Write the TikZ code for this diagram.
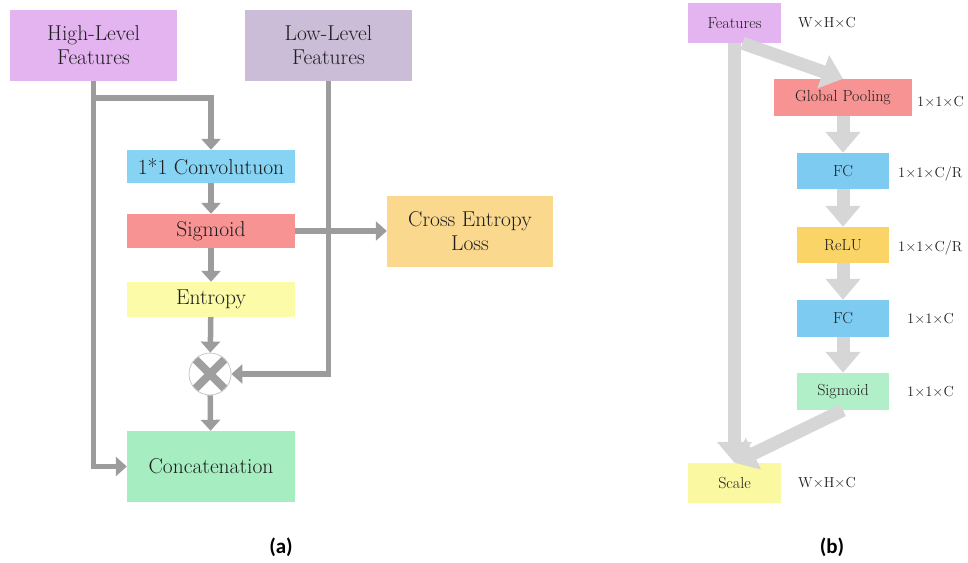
\documentclass[tikz,border=0pt]{standalone}
\usepackage{fontspec}
\newfontfamily\capfont{Carlito}
\usetikzlibrary{arrows.meta,calc}
\definecolor{hlcol}{HTML}{E4B4F0}
\definecolor{llcol}{HTML}{CBBCD7}
\definecolor{convcol}{HTML}{86D3F3}
\definecolor{sigcol}{HTML}{F79393}
\definecolor{entcol}{HTML}{FBFBA8}
\definecolor{catcol}{HTML}{A6EDC2}
\definecolor{celcol}{HTML}{FAD98E}
\definecolor{fccol}{HTML}{7DCBF1}
\definecolor{relucol}{HTML}{FAD466}
\definecolor{sigbcol}{HTML}{B0EFC8}
\definecolor{scalecol}{HTML}{FBF8A2}
\definecolor{linegray}{HTML}{9C9C9C}
\definecolor{fatgray}{HTML}{D6D6D6}
\definecolor{txt}{HTML}{1E1E1E}

\begin{document}
\begin{tikzpicture}[x=1pt,y=-1pt,
    box/.style={rectangle,inner sep=0pt,text=txt,align=center,font=\fontsize{21.5}{24}\selectfont},
    sbox/.style={rectangle,inner sep=0pt,text=txt,align=center,font=\fontsize{16}{18}\selectfont},
    thinarrow/.style={draw=linegray,line width=5.5pt,-{Triangle[width=19pt,length=11pt]}},
    fatarrow/.style={draw=fatgray,line width=13pt,-{Triangle[width=34pt,length=21pt]}},
    dims/.style={anchor=west,inner sep=0pt,text=txt,font=\fontsize{14.5}{17}\selectfont}]
    \useasboundingbox (0,0) rectangle (968,562);

    % (a)
    \node[box,minimum width=167pt,minimum height=71pt,fill=hlcol] (hlf) at (93.5,45.5) {High-Level\\Features};
    \node[box,minimum width=167pt,minimum height=71pt,fill=llcol] (llf) at (328.5,45.5) {Low-Level\\Features};
    \node[box,minimum width=168pt,minimum height=33pt,fill=convcol] (conv) at (211,166.5) {1*1 Convolutuon};
    \node[box,minimum width=168pt,minimum height=34pt,fill=sigcol] (sig) at (211,231) {Sigmoid};
    \node[box,minimum width=168pt,minimum height=35pt,fill=entcol] (ent) at (211,299.5) {Entropy};
    \node[box,minimum width=168pt,minimum height=71pt,fill=catcol] (cat) at (211,466.5) {Concatenation};
    \node[box,minimum width=166pt,minimum height=71pt,fill=celcol] (cel) at (470,231) {Cross Entropy\\Loss};
    \node[circle,minimum size=42pt,inner sep=0pt,draw=gray!45,line width=0.8pt,fill=white,
        path picture={\draw[line width=8pt,draw=gray!75]
            (path picture bounding box.south west) -- (path picture bounding box.north east)
            (path picture bounding box.north west) -- (path picture bounding box.south east);}] (mult) at (210,374) {};
    \node[font=\capfont\bfseries\fontsize{21}{24}\selectfont] (capa) at (281,547) {(a)};

    \coordinate (split) at (93.5,98);
    \coordinate (hop) at (llf.south |- sig.east);
    \draw[thinarrow] (hlf.south) |- (cat.west);
    \draw[thinarrow] (split) -| (conv.north);
    \draw[thinarrow] (conv) -- (sig);
    \draw[thinarrow] (sig) -- (ent);
    \draw[thinarrow] (ent) -- (mult);
    \draw[thinarrow] (mult) -- (cat);
    \draw[thinarrow] (llf.south) |- (mult.east);
    \draw[thinarrow] (sig.east) -- (cel.west);
    \fill[linegray] (hop) circle (4pt);

    % (b)
    \node[sbox,minimum width=93pt,minimum height=40pt,fill=hlcol] (feat) at (734.5,23) {Features};
    \node[sbox,minimum width=138pt,minimum height=37pt,fill=sigcol] (gpool) at (843,97.5) {Global Pooling};
    \node[sbox,minimum width=92pt,minimum height=36pt,fill=fccol] (fca) at (843,171) {FC};
    \node[sbox,minimum width=92pt,minimum height=36pt,fill=relucol] (relu) at (843,245) {ReLU};
    \node[sbox,minimum width=92pt,minimum height=37pt,fill=fccol] (fcb) at (843,318.5) {FC};
    \node[sbox,minimum width=92pt,minimum height=37pt,fill=sigbcol] (sigb) at (843,391.5) {Sigmoid};
    \node[sbox,minimum width=93pt,minimum height=40pt,fill=scalecol] (scale) at (734.5,483) {Scale};
    \node[font=\capfont\bfseries\fontsize{21}{24}\selectfont] (capb) at (832,547) {(b)};

    \draw[fatarrow] (feat.south) -- (scale.north);
    \draw[fatarrow] ($(feat.south)+(8,0)$) -- (gpool.north);
    \draw[fatarrow] (gpool) -- (fca);
    \draw[fatarrow] (fca) -- (relu);
    \draw[fatarrow] (relu) -- (fcb);
    \draw[fatarrow] (fcb) -- (sigb);
    \draw[fatarrow] (sigb.south) -- (scale.north);

    \node[dims] (dfeat) at (798,23) {W×H×C};
    \node[dims] (dgpool) at (917,102) {1×1×C};
    \node[dims] (dfca) at (898,174) {1×1×C/R};
    \node[dims] (drelu) at (898,248) {1×1×C/R};
    \node[dims] (dfcb) at (907,319) {1×1×C};
    \node[dims] (dsigb) at (907,392) {1×1×C};
    \node[dims] (dscale) at (798,483) {W×H×C};
\end{tikzpicture}
\end{document}
